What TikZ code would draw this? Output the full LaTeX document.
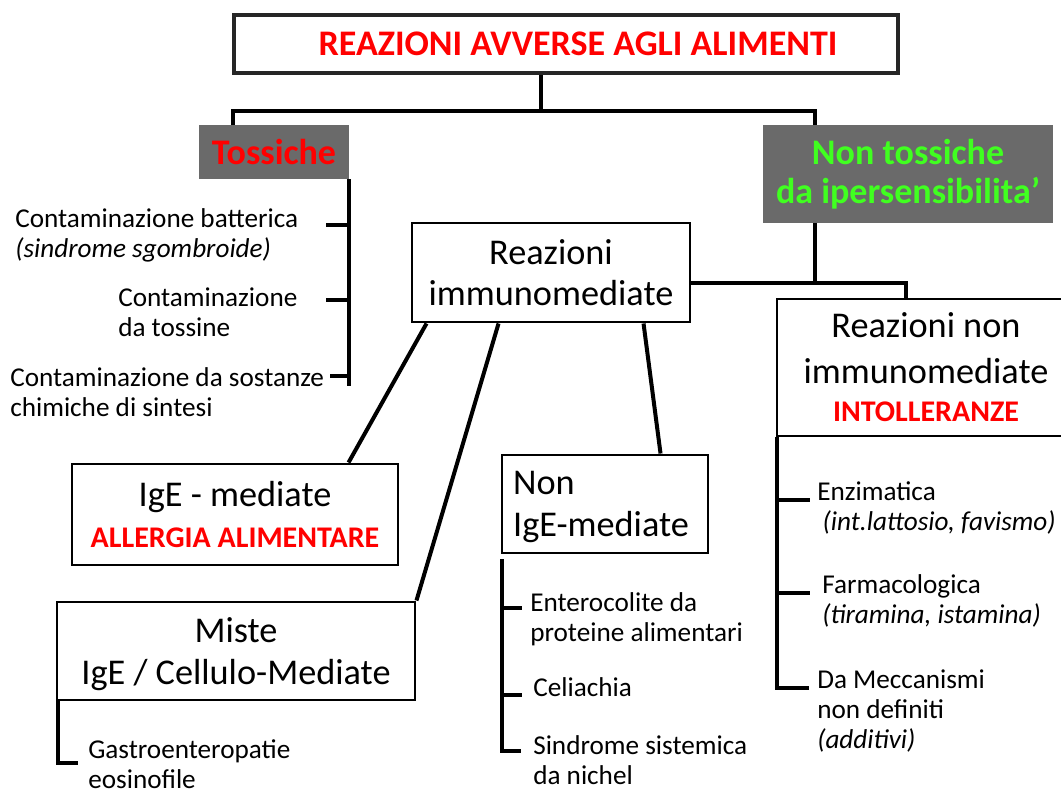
\documentclass[tikz,border=0pt]{standalone}
\usepackage{fontspec}
\setmainfont{Carlito}
\usetikzlibrary{calc}
\definecolor{boxgray}{HTML}{6A6A6A}
\definecolor{alarm}{HTML}{FF0000}
\definecolor{lgreen}{HTML}{40FF20}
\tikzset{
  conn/.style={line width=3pt},
  box/.style={draw, line width=2.2pt, inner sep=0pt, align=center},
  graybox/.style={fill=boxgray, inner sep=0pt, align=center},
  boxtext/.style={font=\fontsize{27.2}{31}\selectfont, text depth=0pt},
  small/.style={font=\fontsize{20.4}{22.5}\selectfont, inner sep=0pt, align=left, anchor=west},
}
\begin{document}
\begin{tikzpicture}[x=0.75pt,y=-0.75pt]
\useasboundingbox (0,0) rectangle (1061,789);
% boxes
\node[box, line width=3pt, draw=black!85, minimum width=498pt, minimum height=43.5pt,
      font=\bfseries\fontsize{27}{30}\selectfont, text=alarm] (title) at (566,44) {\hspace*{18pt}REAZIONI AVVERSE AGLI ALIMENTI};
\node[graybox, minimum width=112.5pt, minimum height=40.5pt,
      font=\bfseries\fontsize{27}{30}\selectfont, text=alarm] (tox) at (274,152) {Tossiche};
\node[graybox, minimum width=217.5pt, minimum height=73.5pt,
      font=\bfseries\fontsize{27}{29}\selectfont, text=lgreen] (nt) at (908,174) {Non tossiche\\da ipersensibilita’};
\node[box, boxtext, minimum width=208.5pt, minimum height=74.25pt] (imm) at (551,272.5) {Reazioni\\immunomediate};
\node[box, boxtext, minimum width=223.5pt, minimum height=102.75pt] (nonimm) at (926,367.5)
      {Reazioni non\\[3pt]immunomediate\\[-2pt]{\color{alarm}\bfseries\fontsize{22.5}{26}\selectfont INTOLLERANZE}};
\node[box, boxtext, minimum width=244.5pt, minimum height=75.75pt] (ige) at (235,514.5)
      {IgE - mediate\\{\color{alarm}\bfseries\fontsize{22.5}{26}\selectfont ALLERGIA ALIMENTARE}};
\node[box, boxtext, minimum width=268.5pt, minimum height=73.5pt] (miste) at (236,651) {Miste\\IgE / Cellulo-Mediate};
\node[box, boxtext, minimum width=154.5pt, minimum height=73.5pt, align=left] (nonige) at (605,504) {Non\\IgE-mediate\hspace*{6pt}};
% top connectors
\coordinate (j1) at (541,111);
\coordinate (toxin) at (233,125);
\coordinate (ntin) at (815,125);
\draw[conn] (title.south -| j1) -- (j1);
\draw[conn] (toxin) -- (toxin |- j1) -- (ntin |- j1) -- (ntin);
% tossiche list
\draw[conn] (tox.south east) -- ++(0,207);
\draw[conn] (326,225) -- (349,225);
\draw[conn] (326,300) -- (349,300);
\draw[conn] (330,376) -- (349,376);
% immunomediate / non immunomediate
\coordinate (h2) at (815,283);
\coordinate (nn) at (906,299);
\draw[conn] (nt.south -| h2) -- (h2);
\draw[conn] (imm.east |- h2) -- (nn |- h2) -- (nn);
\draw[conn] ($(imm.south west)+(16,0)$) -- ($(ige.north west)+(278,0)$);
\draw[conn] ($(imm.south west)+(88,0)$) -- (miste.north east);
\draw[conn] ($(imm.south west)+(233,0)$) -- ($(nonige.north west)+(160,0)$);
% right list
\draw[conn] ($(nonimm.south west)+(1,0)$) -- ++(0,251) -- ++(32,0);
\draw[conn] (778,500) -- (810,500);
\draw[conn] (778,593) -- (810,593);
% non IgE list
\draw[conn] ($(nonige.south west)+(1,5)$) -- ++(0,192) -- ++(19,0);
\draw[conn] (503,608) -- (522,608);
\draw[conn] (503,695) -- (522,695);
% miste list
\draw[conn] ($(miste.south west)+(2,0)$) -- ++(0,62) -- ++(20,0);
% texts
\node[small] (t1) at (15,235) {Contaminazione batterica\\\textit{(sindrome sgombroide)}};
\node[small] (t2) at (118,312) {Contaminazione\\da tossine};
\node[small] (t3) at (10,392) {Contaminazione da sostanze\\chimiche di sintesi};
\node[small] (r1) at (817,508) {Enzimatica\\\hspace*{4pt}\textit{(int.lattosio, favismo)}};
\node[small] (r2) at (822,601) {Farmacologica\\\textit{(tiramina, istamina)}};
\node[small] (r3) at (817,711) {Da Meccanismi\\non definiti\\\textit{(additivi)}};
\node[small] (n1) at (530,619) {Enterocolite da\\proteine alimentari};
\node[small] (n2) at (533,687) {Celiachia};
\node[small] (n3) at (533,760) {Sindrome sistemica\\da nichel};
\node[small] (g1) at (88,764) {Gastroenteropatie\\eosinofile};
\end{tikzpicture}
\end{document}
